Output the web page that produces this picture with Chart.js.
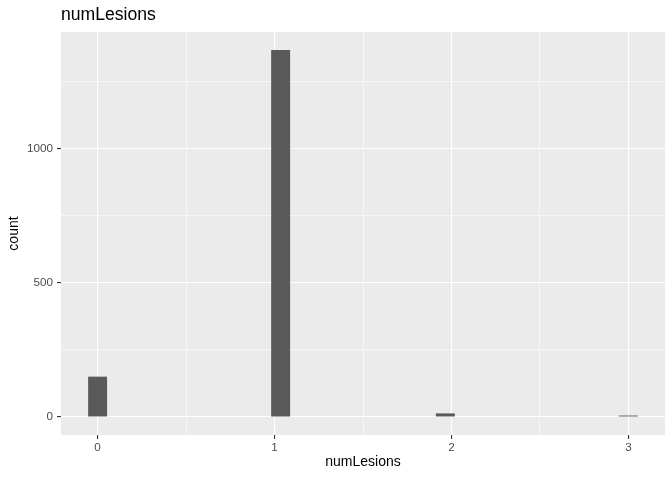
<!DOCTYPE html>
<html>
<head>
<meta charset="utf-8">
<script src="https://cdn.jsdelivr.net/npm/chart.js@4.4.0/dist/chart.umd.min.js"></script>
<style>
  html, body { margin: 0; padding: 0; background: #ffffff; }
  #c { display: block; }
</style>
</head>
<body>
<canvas id="c" width="672" height="480"></canvas>
<script>
// ---- data (histogram of numLesions, 30 bins) ----
const binCenters = [0, 0.1034, 0.2069, 0.3103, 0.4138, 0.5172, 0.6207, 0.7241, 0.8276, 0.9310,
                    1.0345, 1.1379, 1.2414, 1.3448, 1.4483, 1.5517, 1.6552, 1.7586, 1.8621, 1.9655,
                    2.0690, 2.1724, 2.2759, 2.3793, 2.4828, 2.5862, 2.6897, 2.7931, 2.8966, 3.0000];
const counts     = [148, 0, 0, 0, 0, 0, 0, 0, 0, 0,
                    1366, 0, 0, 0, 0, 0, 0, 0, 0, 11,
                    0, 0, 0, 0, 0, 0, 0, 0, 0, 3];
const xMajorTicks = [0, 1, 2, 3];
const xMinorTicks = [0.5, 1.5, 2.5];
const yMajorTicks = [0, 500, 1000];
const yMinorTicks = [250, 750, 1250];
const chartTitle = 'numLesions';
const xTitle = 'numLesions';
const yTitle = 'count';

const FONT = '"Liberation Sans", Arial, Helvetica, sans-serif';

const panelBg = {
  id: 'panelBg',
  beforeDraw(chart) {
    const {ctx, chartArea: a} = chart;
    ctx.save();
    ctx.fillStyle = '#EBEBEB';
    ctx.fillRect(a.left, a.top, a.right - a.left, a.bottom - a.top);
    ctx.restore();
  }
};

function buildTicks(major, minor) {
  return scale => {
    scale.ticks = major.concat(minor).sort((a, b) => a - b).map(v => ({value: v}));
  };
}

new Chart(document.getElementById('c'), {
  type: 'bar',
  data: {
    datasets: [{
      data: binCenters.map((x, i) => ({x: x, y: counts[i]})),
      backgroundColor: c => (c.raw && c.raw.y > 0) ? '#595959' : 'rgba(0,0,0,0)',
      borderWidth: 0,
      barPercentage: 1,
      categoryPercentage: 1
    }]
  },
  options: {
    responsive: false,
    animation: false,
    layout: { padding: { top: 0, right: 7, bottom: 0, left: 0 } },
    plugins: {
      legend: { display: false },
      tooltip: { enabled: false },
      title: {
        display: true,
        text: chartTitle,
        align: 'start',
        fullSize: false,
        color: '#000000',
        font: { family: FONT, size: 17.6, weight: 'normal', lineHeight: 1.2 },
        padding: { top: 4.5, bottom: 6.4 }
      }
    },
    scales: {
      x: {
        type: 'linear',
        min: -0.2069,
        max: 3.2069,
        offset: false,
        afterBuildTicks: buildTicks(xMajorTicks, xMinorTicks),
        afterFit: s => { s.height = 45; },
        border: { display: false },
        grid: {
          offset: false,
          color: '#FFFFFF',
          lineWidth: c => xMajorTicks.includes(c.tick && c.tick.value) ? 1.1 : 0.55,
          tickColor: c => xMajorTicks.includes(c.tick && c.tick.value) ? '#333333' : 'rgba(0,0,0,0)',
          tickWidth: 1.1,
          tickLength: 4
        },
        ticks: {
          autoSkip: false,
          maxRotation: 0,
          padding: 1.5,
          color: '#4D4D4D',
          font: { family: FONT, size: 11.7 },
          callback: v => xMajorTicks.includes(v) ? String(v) : ''
        },
        title: {
          display: true,
          text: xTitle,
          color: '#000000',
          font: { family: FONT, size: 14, lineHeight: 1.2 },
          padding: { top: 0, bottom: 9 }
        }
      },
      y: {
        type: 'linear',
        min: -68.3,
        max: 1434,
        afterBuildTicks: buildTicks(yMajorTicks, yMinorTicks),
        afterFit: s => { s.width = 61; },
        border: { display: false },
        grid: {
          color: '#FFFFFF',
          lineWidth: c => yMajorTicks.includes(c.tick && c.tick.value) ? 1.1 : 0.55,
          tickColor: c => yMajorTicks.includes(c.tick && c.tick.value) ? '#333333' : 'rgba(0,0,0,0)',
          tickWidth: 1.1,
          tickLength: 4
        },
        ticks: {
          autoSkip: false,
          padding: 4,
          color: '#4D4D4D',
          font: { family: FONT, size: 11.7 },
          callback: v => yMajorTicks.includes(v) ? String(v) : ''
        },
        title: {
          display: true,
          text: yTitle,
          color: '#000000',
          font: { family: FONT, size: 14, lineHeight: 1.2 },
          padding: { top: 6.2, bottom: 0 }
        }
      }
    }
  },
  plugins: [panelBg]
});
</script>
</body>
</html>
